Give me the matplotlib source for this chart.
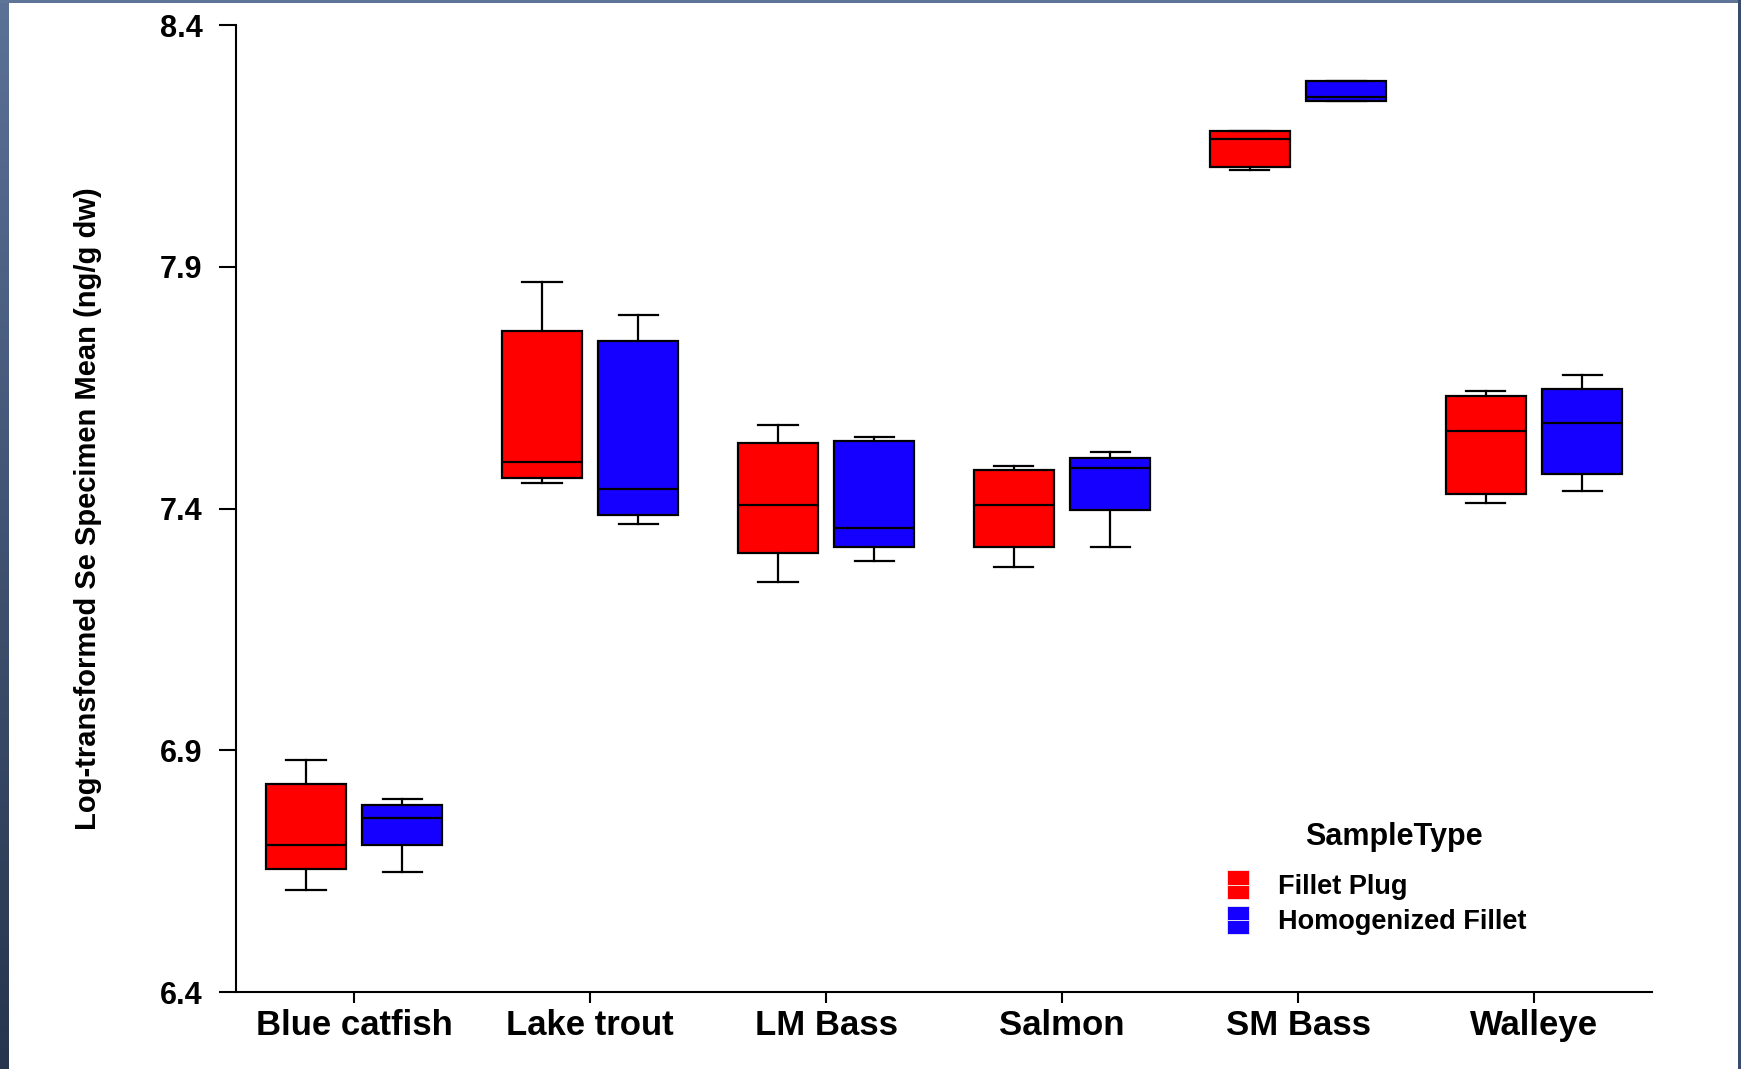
import matplotlib
matplotlib.use('Agg')
import matplotlib.pyplot as plt
import numpy as np
from matplotlib.patches import Rectangle
from matplotlib.legend_handler import HandlerBase

plt.rcParams['font.family'] = ['Liberation Sans', 'DejaVu Sans']
plt.rcParams['font.weight'] = 'bold'

# species groups and five-number summaries per sample type
species = ['Blue catfish', 'Lake trout', 'LM Bass', 'Salmon', 'SM Bass', 'Walleye']

plug_lo = [6.611, 7.452, 7.248, 7.280, 8.100, 7.412]
plug_q1 = [6.655, 7.463, 7.308, 7.320, 8.107, 7.431]
plug_med = [6.704, 7.496, 7.408, 7.408, 8.164, 7.560]
plug_q3 = [6.831, 7.768, 7.536, 7.480, 8.181, 7.632]
plug_hi = [6.880, 7.868, 7.572, 7.488, 8.181, 7.644]

homog_lo = [6.648, 7.368, 7.292, 7.320, 8.243, 7.436]
homog_q1 = [6.704, 7.387, 7.320, 7.396, 8.243, 7.471]
homog_med = [6.760, 7.440, 7.360, 7.484, 8.252, 7.576]
homog_q3 = [6.787, 7.747, 7.540, 7.504, 8.285, 7.647]
homog_hi = [6.800, 7.800, 7.548, 7.516, 8.285, 7.676]

sample_types = ['Fillet Plug', 'Homogenized Fillet']
colors = ['#FF0000', '#1500FF']
y_ticks = [6.4, 6.9, 7.4, 7.9, 8.4]


def make_stats(lo, q1, med, q3, hi):
    return [dict(whislo=a, q1=b, med=c, q3=d, whishi=e, fliers=[])
            for a, b, c, d, e in zip(lo, q1, med, q3, hi)]


class SplitSquare(HandlerBase):
    # legend key drawn as two stacked blocks with a thin light seam
    def create_artists(self, legend, orig_handle, xdescent, ydescent,
                       width, height, fontsize, trans):
        fc = orig_handle.get_facecolor()
        h = height / 2
        bot = Rectangle((-xdescent, -ydescent), width, h, facecolor=fc,
                        edgecolor='#f0f0f0', lw=0.6, transform=trans)
        top = Rectangle((-xdescent, -ydescent + h), width, h, facecolor=fc,
                        edgecolor='#f0f0f0', lw=0.6, transform=trans)
        return [bot, top]


fig = plt.figure(figsize=(17.41, 10.69), dpi=100)
ax = fig.add_axes([0.1356, 0.0720, 0.8133, 0.9046])

x = np.arange(len(species))
offset = 0.204
groups = [make_stats(plug_lo, plug_q1, plug_med, plug_q3, plug_hi),
          make_stats(homog_lo, homog_q1, homog_med, homog_q3, homog_hi)]

lw = 1.6
for i, (stats, col) in enumerate(zip(groups, colors)):
    pos = x + (i * 2 - 1) * offset
    ax.bxp(stats, positions=pos, widths=0.34, capwidths=0.166,
           patch_artist=True, showfliers=False, manage_ticks=False,
           boxprops=dict(facecolor=col, edgecolor='black', linewidth=lw),
           whiskerprops=dict(color='black', linewidth=lw),
           capprops=dict(color='black', linewidth=lw),
           medianprops=dict(color='black', linewidth=lw))

ax.set_xlim(-0.5, 5.5)
ax.set_ylim(6.4, 8.4)
ax.set_xticks(x)
ax.set_xticklabels(species, fontsize=25, fontweight='bold')
ax.set_yticks(y_ticks)
ax.set_yticklabels([f'{v:.1f}' for v in y_ticks], fontsize=22, fontweight='bold')
ax.tick_params(axis='y', length=12, width=1.5, pad=12)
ax.tick_params(axis='x', length=8, width=1.5, pad=4.5)

for side in ['top', 'right']:
    ax.spines[side].set_visible(False)
for side in ['left', 'bottom']:
    ax.spines[side].set_linewidth(1.5)

ax.set_ylabel('Log-transformed Se Specimen Mean (ng/g dw)', fontsize=21,
              fontweight='bold')
ax.yaxis.set_label_coords(-0.095, 0.5)

# legend: heading as its own text, entries below it
ax.text(0.818, 0.1606, 'SampleType', transform=ax.transAxes, ha='center',
        va='center', fontsize=22, fontweight='bold')
handles = [Rectangle((0, 0), 1, 1, facecolor=c) for c in colors]
ax.legend(handles, sample_types, loc='upper left',
          bbox_to_anchor=(0.700, 0.126), frameon=False, borderpad=0,
          borderaxespad=0, handler_map={Rectangle: SplitSquare()},
          prop=dict(size=19.5, weight='bold'),
          handlelength=0.82, handleheight=1.25, handletextpad=1.05,
          labelspacing=0.22)

# slide frame around the chart
frame = fig.add_axes([0, 0, 9 / 1741, 1])
frame.imshow(np.linspace(0, 1, 256).reshape(-1, 1), aspect='auto',
             cmap=matplotlib.colors.LinearSegmentedColormap.from_list(
                 'frame', ['#5b7196', '#27354e']))
frame.axis('off')
fig.patches.append(Rectangle((0, 1 - 3 / 1069), 1, 3 / 1069, transform=fig.transFigure,
                             facecolor='#5f7597', edgecolor='none', zorder=5))
fig.patches.append(Rectangle((1 - 3 / 1741, 0), 3 / 1741, 1, transform=fig.transFigure,
                             facecolor='#3b4c6a', edgecolor='none', zorder=5))

fig.savefig('out.png', dpi=100)
